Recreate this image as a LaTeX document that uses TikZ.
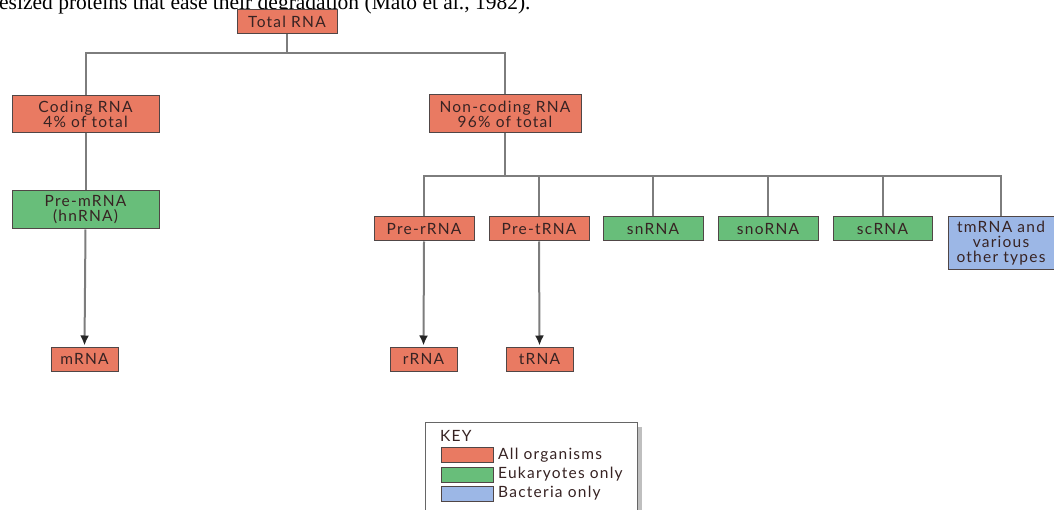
\documentclass[tikz,border=0pt]{standalone}
\usepackage{fontspec}
\setmainfont{Lato}
\newfontfamily\boxfont[LetterSpace=8]{Lato}
\newfontfamily\serifnote{Liberation Serif}
\usetikzlibrary{arrows.meta}
\definecolor{salmon}{RGB}{233,122,98}
\definecolor{leaf}{RGB}{104,190,122}
\definecolor{sky}{RGB}{156,183,230}
\definecolor{edge}{RGB}{80,70,70}
\definecolor{wire}{RGB}{125,125,125}
\definecolor{ink}{RGB}{55,35,35}
\tikzset{
  rnabox/.style={draw=edge, line width=1pt, text=ink, align=center, inner sep=0pt,
    font=\boxfont\fontsize{15.5}{15}\selectfont},
  allorg/.style={rnabox, fill=salmon},
  euk/.style={rnabox, fill=leaf},
  bact/.style={rnabox, fill=sky},
  wirestyle/.style={draw=wire, line width=2pt},
  arrowstyle/.style={wirestyle, -{Latex[length=10pt,width=9pt,fill=black!85,color=black!85]}, shorten >=1pt},
  keytext/.style={anchor=west, text=ink, font=\boxfont\fontsize{15.5}{15}\selectfont, inner sep=0pt},
  swatch/.style={draw=edge, line width=0.8pt, minimum width=52pt, minimum height=15pt, inner sep=0pt}
}
\begin{document}
\begin{tikzpicture}[x=1pt,y=-1pt]
\useasboundingbox (0,0) rectangle (1054,510);
\clip (0,0) rectangle (1054,510);
% cut-off line of running text
\node[anchor=base west, inner sep=0pt, font=\serifnote\fontsize{21.5}{24}\selectfont] (note) at (-1,10) {esized proteins that ease their degradation (Mato et al., 1982).};
% nodes
\node[allorg, minimum width=100pt, minimum height=24pt] (total) at (287,21.5) {Total RNA};
\node[allorg, minimum width=147pt, minimum height=37pt] (coding) at (85.5,114.5) {Coding RNA\\4\% of total};
\node[euk, minimum width=147pt, minimum height=38pt] (premrna) at (85.5,210) {Pre-mRNA\\(hnRNA)};
\node[allorg, minimum width=67pt, minimum height=24pt] (mrna) at (84.5,359) {mRNA};
\node[allorg, minimum width=152pt, minimum height=38pt] (noncoding) at (505,114) {Non-coding RNA\\96\% of total};
\node[allorg, minimum width=100pt, minimum height=24pt] (prer) at (424,229) {Pre-rRNA};
\node[allorg, minimum width=100pt, minimum height=24pt] (pret) at (539,229) {Pre-tRNA};
\node[euk, minimum width=100pt, minimum height=24pt] (sn) at (653,229) {snRNA};
\node[euk, minimum width=100pt, minimum height=24pt] (sno) at (768,229) {snoRNA};
\node[euk, minimum width=99pt, minimum height=24pt] (sc) at (882.5,229) {scRNA};
\node[bact, minimum width=106pt, minimum height=53pt] (tm) at (1001,243.5) {tmRNA and\\various\\other types};
\node[allorg, minimum width=67pt, minimum height=24pt] (rrna) at (423.5,359) {rRNA};
\node[allorg, minimum width=67pt, minimum height=24pt] (trna) at (539.5,359) {tRNA};
% junction coordinates
\coordinate (j1) at (287,53);
\coordinate (j2) at (505,176);
% connectors
\draw[wirestyle] (total.south) -- (j1);
\draw[wirestyle] (coding.north) |- (j1) -| (noncoding.north);
\draw[wirestyle] (coding.south) -- (premrna.north);
\draw[arrowstyle] (premrna.south) -- (mrna.north);
\draw[wirestyle] (noncoding.south) -- (j2);
\draw[wirestyle] (prer.north) |- (j2) -| (tm.north);
\draw[wirestyle] (pret.north) -- (pret.north |- j2);
\draw[wirestyle] (sn.north) -- (sn.north |- j2);
\draw[wirestyle] (sno.north) -- (sno.north |- j2);
\draw[wirestyle] (sc.north) -- (sc.north |- j2);
\draw[arrowstyle] (prer.south) -- (rrna.north);
\draw[arrowstyle] (pret.south) -- (trna.north);
% key
\fill[black!25] (430,427) rectangle (642,515);
\node[draw=black!60, fill=white, line width=1pt, minimum width=212pt, minimum height=92pt, inner sep=0pt, anchor=north west] (keybox) at (425,422) {};
\node[keytext] (keyhead) at (440,436) {KEY};
\node[swatch, fill=salmon, anchor=west] (sw1) at (441,455) {};
\node[swatch, fill=leaf, anchor=west] (sw2) at (441,474.5) {};
\node[swatch, fill=sky, anchor=west] (sw3) at (441,493.5) {};
\node[keytext] (k1) at (498,455) {All organisms};
\node[keytext] (k2) at (498,474.5) {Eukaryotes only};
\node[keytext] (k3) at (498,493.5) {Bacteria only};
\end{tikzpicture}
\end{document}
